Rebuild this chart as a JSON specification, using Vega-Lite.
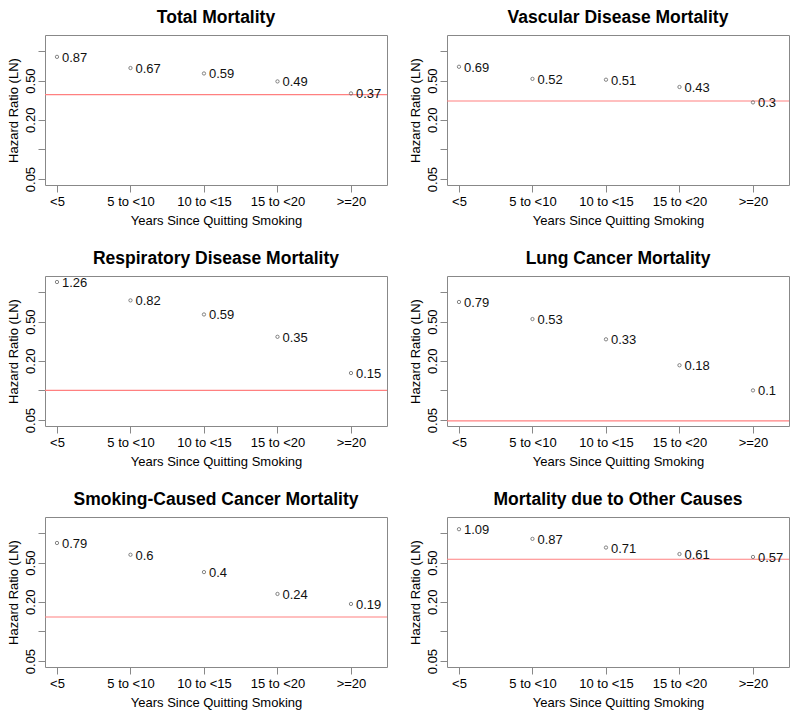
{
  "$schema": "https://vega.github.io/schema/vega-lite/v6.json",
  "background": "white",
  "padding": {"left": 6, "top": 8, "right": 7, "bottom": 0},
  "data": {"values": [
    {"panel": "Total Mortality", "yr": 1, "hr": 0.87},
    {"panel": "Total Mortality", "yr": 2, "hr": 0.67},
    {"panel": "Total Mortality", "yr": 3, "hr": 0.59},
    {"panel": "Total Mortality", "yr": 4, "hr": 0.49},
    {"panel": "Total Mortality", "yr": 5, "hr": 0.37},
    {"panel": "Total Mortality", "hr": 0.36},
    {"panel": "Vascular Disease Mortality", "yr": 1, "hr": 0.69},
    {"panel": "Vascular Disease Mortality", "yr": 2, "hr": 0.52},
    {"panel": "Vascular Disease Mortality", "yr": 3, "hr": 0.51},
    {"panel": "Vascular Disease Mortality", "yr": 4, "hr": 0.43},
    {"panel": "Vascular Disease Mortality", "yr": 5, "hr": 0.3},
    {"panel": "Vascular Disease Mortality", "hr": 0.31},
    {"panel": "Respiratory Disease Mortality", "yr": 1, "hr": 1.26},
    {"panel": "Respiratory Disease Mortality", "yr": 2, "hr": 0.82},
    {"panel": "Respiratory Disease Mortality", "yr": 3, "hr": 0.59},
    {"panel": "Respiratory Disease Mortality", "yr": 4, "hr": 0.35},
    {"panel": "Respiratory Disease Mortality", "yr": 5, "hr": 0.15},
    {"panel": "Respiratory Disease Mortality", "hr": 0.1},
    {"panel": "Lung Cancer Mortality", "yr": 1, "hr": 0.79},
    {"panel": "Lung Cancer Mortality", "yr": 2, "hr": 0.53},
    {"panel": "Lung Cancer Mortality", "yr": 3, "hr": 0.33},
    {"panel": "Lung Cancer Mortality", "yr": 4, "hr": 0.18},
    {"panel": "Lung Cancer Mortality", "yr": 5, "hr": 0.1},
    {"panel": "Lung Cancer Mortality", "hr": 0.049},
    {"panel": "Smoking-Caused Cancer Mortality", "yr": 1, "hr": 0.79},
    {"panel": "Smoking-Caused Cancer Mortality", "yr": 2, "hr": 0.6},
    {"panel": "Smoking-Caused Cancer Mortality", "yr": 3, "hr": 0.4},
    {"panel": "Smoking-Caused Cancer Mortality", "yr": 4, "hr": 0.24},
    {"panel": "Smoking-Caused Cancer Mortality", "yr": 5, "hr": 0.19},
    {"panel": "Smoking-Caused Cancer Mortality", "hr": 0.14},
    {"panel": "Mortality due to Other Causes", "yr": 1, "hr": 1.09},
    {"panel": "Mortality due to Other Causes", "yr": 2, "hr": 0.87},
    {"panel": "Mortality due to Other Causes", "yr": 3, "hr": 0.71},
    {"panel": "Mortality due to Other Causes", "yr": 4, "hr": 0.61},
    {"panel": "Mortality due to Other Causes", "yr": 5, "hr": 0.57},
    {"panel": "Mortality due to Other Causes", "hr": 0.54}
  ]},
  "facet": {
    "field": "panel", "type": "nominal",
    "sort": ["Total Mortality", "Vascular Disease Mortality", "Respiratory Disease Mortality", "Lung Cancer Mortality", "Smoking-Caused Cancer Mortality", "Mortality due to Other Causes"],
    "header": {"title": null, "labelFontSize": 17.5, "labelFontWeight": "bold", "labelFont": "Liberation Sans", "labelColor": "black", "labelPadding": 9}
  },
  "columns": 2,
  "spacing": {"row": 21, "column": 19},
  "resolve": {"axis": {"x": "independent", "y": "independent"}},
  "spec": {
    "width": 342,
    "height": 150,
    "encoding": {
      "y": {
        "field": "hr", "type": "quantitative",
        "scale": {"type": "log", "domain": [0.0435, 1.45], "nice": false, "zero": false},
        "axis": {
          "title": "Hazard Ratio (LN)",
          "values": [0.05, 0.1, 0.2, 0.5, 1],
          "labelExpr": "datum.value == 0.05 ? '0.05' : datum.value == 0.2 ? '0.20' : datum.value == 0.5 ? '0.50' : ''",
          "labelAngle": -90, "labelAlign": "center", "labelBaseline": "bottom",
          "labelPadding": 1, "titlePadding": 4, "labelOverlap": false
        }
      }
    },
    "layer": [
      {
        "transform": [{"filter": "!isValid(datum.yr)"}],
        "mark": {"type": "rule", "color": "#ff8080", "strokeWidth": 1.2}
      },
      {
        "transform": [{"filter": "isValid(datum.yr)"}],
        "mark": {"type": "point", "shape": "circle", "filled": false, "size": 11, "stroke": "#666", "strokeWidth": 0.8, "opacity": 1},
        "encoding": {
          "x": {
            "field": "yr", "type": "quantitative",
            "scale": {"domain": [0.837, 5.49], "nice": false, "zero": false},
            "axis": {
              "title": "Years Since Quitting Smoking",
              "values": [1, 2, 3, 4, 5],
              "labelExpr": "['<5', '5 to <10', '10 to <15', '15 to <20', '>=20'][datum.value - 1]",
              "labelPadding": 3, "titlePadding": 6, "labelOverlap": false, "labelFlush": false
            }
          }
        }
      },
      {
        "transform": [{"filter": "isValid(datum.yr)"}],
        "mark": {"type": "text", "align": "left", "baseline": "middle", "dx": 5, "dy": 1, "fontSize": 13, "font": "Liberation Sans", "color": "#111"},
        "encoding": {
          "x": {
            "field": "yr", "type": "quantitative",
            "scale": {"domain": [0.837, 5.49], "nice": false, "zero": false},
            "axis": {
              "title": "Years Since Quitting Smoking",
              "values": [1, 2, 3, 4, 5],
              "labelExpr": "['<5', '5 to <10', '10 to <15', '15 to <20', '>=20'][datum.value - 1]",
              "labelPadding": 3, "titlePadding": 6, "labelOverlap": false, "labelFlush": false
            }
          },
          "text": {"field": "hr", "type": "nominal"}
        }
      }
    ]
  },
  "config": {
    "view": {"stroke": "#888", "strokeWidth": 1},
    "axis": {
      "domain": false, "grid": false,
      "tickColor": "#888", "tickSize": 7,
      "labelFont": "Liberation Sans", "labelFontSize": 13, "labelColor": "black",
      "titleFont": "Liberation Sans", "titleFontSize": 13, "titleFontWeight": "normal", "titleColor": "black"
    }
  }
}
